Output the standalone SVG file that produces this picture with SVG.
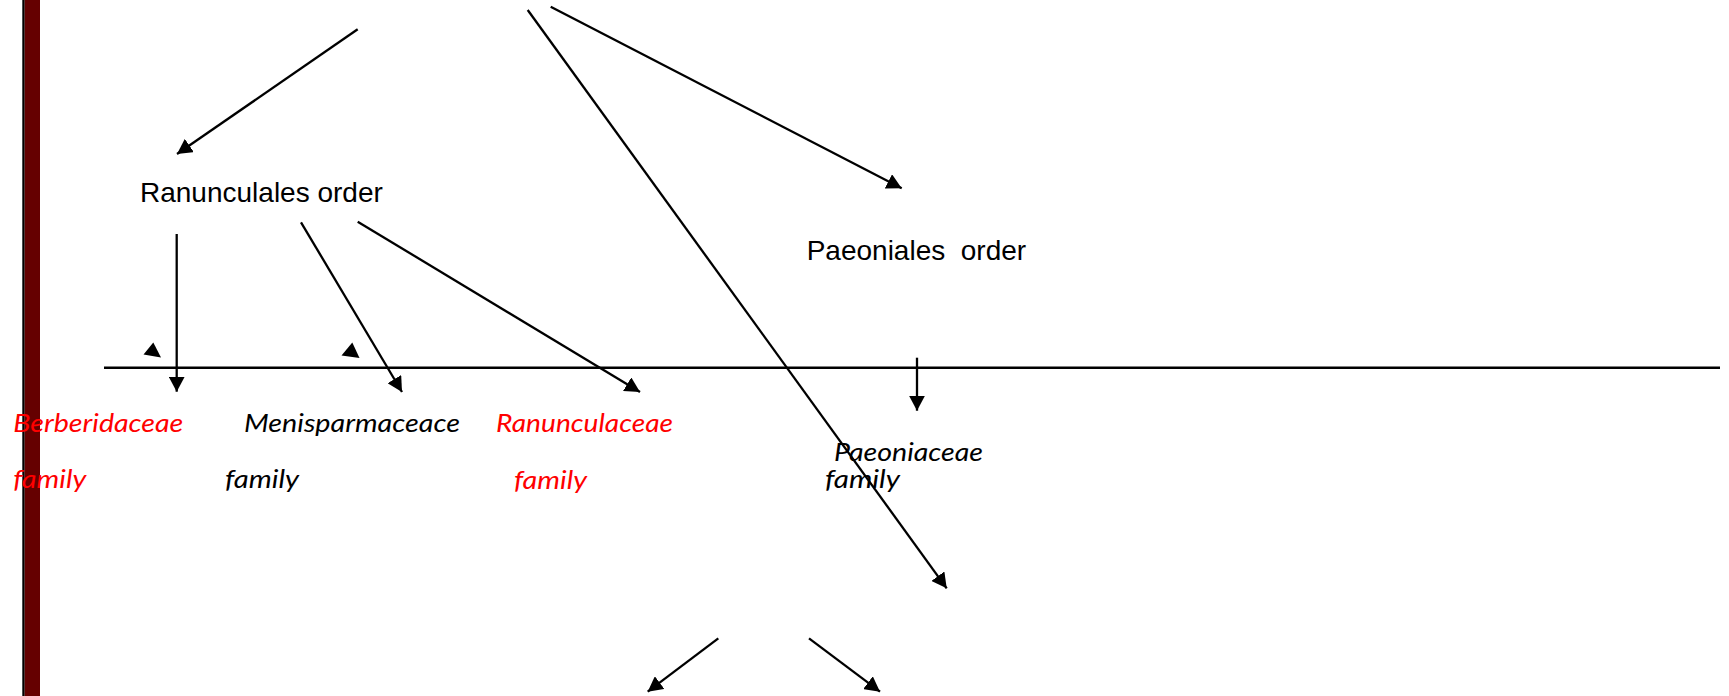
<svg xmlns="http://www.w3.org/2000/svg" width="1729" height="696" viewBox="0 0 1729 696">
<style>
.conn{stroke:#000;stroke-width:2.3;fill:none}
.arr{marker-end:url(#ah)}
.order{font-family:"Liberation Sans",Arial,sans-serif;font-size:28px;fill:#000}
.fam{font-family:Lato,"Open Sans",sans-serif;font-style:italic;font-weight:normal;font-size:26px}
.red{fill:#FF0000}
.blk{fill:#000}
</style>
<defs>
<marker id="ah" markerUnits="userSpaceOnUse" markerWidth="16" markerHeight="16" refX="15" refY="8" orient="auto" viewBox="0 0 16 16">
<path d="M0,0 L15,8 L0,16 z" fill="#000"/>
</marker>
</defs>
<rect width="1729" height="696" fill="#fff"/>
<g id="sidebar">
<rect x="22.3" y="0" width="2.4" height="696" fill="#000"/>
<rect x="24.7" y="0" width="15.3" height="696" fill="#650000"/>
</g>
<g id="connectors">
<line class="conn arr" x1="357.7" y1="29.3" x2="177" y2="154"/>
<line class="conn arr" x1="527.7" y1="10" x2="946.7" y2="588.3"/>
<line class="conn arr" x1="550.7" y1="6.7" x2="901.7" y2="188.3"/>
<line class="conn arr" x1="176.7" y1="234" x2="176.7" y2="391.7"/>
<line class="conn arr" x1="301" y1="222.3" x2="402" y2="392"/>
<line class="conn arr" x1="357.7" y1="221.7" x2="640" y2="392"/>
<line class="conn arr" x1="917" y1="357.7" x2="917" y2="410.7"/>
<line class="conn arr" x1="718.3" y1="638.3" x2="647.7" y2="691.7"/>
<line class="conn arr" x1="809" y1="638.3" x2="880" y2="691.7"/>
<line class="conn" x1="104" y1="367.7" x2="1720" y2="367.7" style="stroke-width:2.6"/>
<polygon points="143.5,354.5 153.3,342.5 161,357.5" fill="#000"/>
<polygon points="341.5,355.5 352.3,342.5 359.5,358" fill="#000"/>
</g>
<g id="ranunculales">
<text class="order" x="140" y="202">Ranunculales order</text>
</g>
<g id="paeoniales">
<text class="order" x="806.7" y="260" xml:space="preserve">Paeoniales  order</text>
</g>
<g id="berberidaceae">
<text class="fam red" x="13.3" y="432" textLength="170" lengthAdjust="spacingAndGlyphs">Berberidaceae</text>
<text class="fam red" x="13.3" y="488" textLength="73" lengthAdjust="spacingAndGlyphs">family</text>
</g>
<g id="menisparmaceace">
<text class="fam blk" x="244" y="432" textLength="216" lengthAdjust="spacingAndGlyphs">Menisparmaceace</text>
<text class="fam blk" x="225" y="488" textLength="74" lengthAdjust="spacingAndGlyphs">family</text>
</g>
<g id="ranunculaceae">
<text class="fam red" x="496" y="432" textLength="177" lengthAdjust="spacingAndGlyphs">Ranunculaceae</text>
<text class="fam red" x="514" y="489" textLength="73" lengthAdjust="spacingAndGlyphs">family</text>
</g>
<g id="paeoniaceae">
<text class="fam blk" x="834" y="461" textLength="149" lengthAdjust="spacingAndGlyphs">Paeoniaceae</text>
<text class="fam blk" x="825" y="488" textLength="75" lengthAdjust="spacingAndGlyphs">family</text>
</g>
</svg>
